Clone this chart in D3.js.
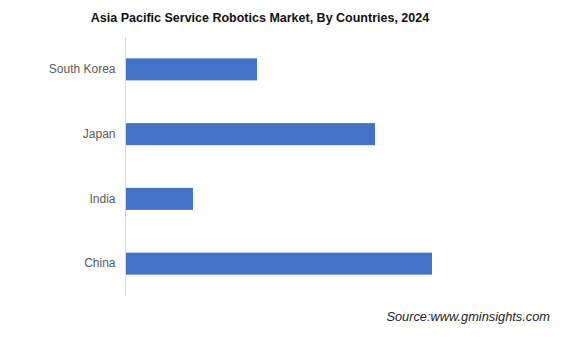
<!DOCTYPE html>
<html><head><meta charset="utf-8">
<script src="https://cdn.jsdelivr.net/npm/d3@7"></script>
<style>body{margin:0;background:#fff}svg{display:block}</style>
</head><body>
<script>
const categories = ["South Korea", "Japan", "India", "China"];
const values = [1.31, 2.49, 0.67, 3.06];
const title = "Asia Pacific Service Robotics Market, By Countries, 2024";
const source = "Source:www.gminsights.com";

const W = 561, H = 337;
const svg = d3.select("body").append("svg").attr("width", W).attr("height", H);
const x = d3.scaleLinear().domain([0, 4]).range([126, 526]);
const y = d3.scaleBand().domain(categories).range([37, 296]).paddingInner(0.66).paddingOuter(0.33);

svg.append("text").attr("x", 260).attr("y", 22).attr("text-anchor", "middle")
  .attr("font-family", "Liberation Sans, Arial, sans-serif").attr("font-weight", "bold")
  .attr("font-size", 12.5).attr("fill", "#111").text(title);

svg.selectAll("rect.bar").data(categories).enter().append("rect").attr("class", "bar")
  .attr("x", x(0)).attr("y", d => y(d))
  .attr("width", (d, i) => x(values[i]) - x(0)).attr("height", y.bandwidth())
  .attr("fill", "#4472C4");

const ax = svg.append("g").attr("transform", `translate(${x(0) - 0.5},0)`)
  .call(d3.axisLeft(y).tickSize(0).tickPadding(10));
ax.select(".domain").attr("stroke", "#d9d9d9").attr("d", "M0,37V296");
ax.selectAll("text").attr("font-family", "Liberation Sans, Arial, sans-serif")
  .attr("font-size", 12).attr("fill", "#595959");

svg.append("text").attr("x", 550).attr("y", 321).attr("text-anchor", "end")
  .attr("font-family", "Liberation Sans, Arial, sans-serif").attr("font-style", "italic")
  .attr("font-size", 12.8).attr("fill", "#222").text(source);
</script>
</body></html>
